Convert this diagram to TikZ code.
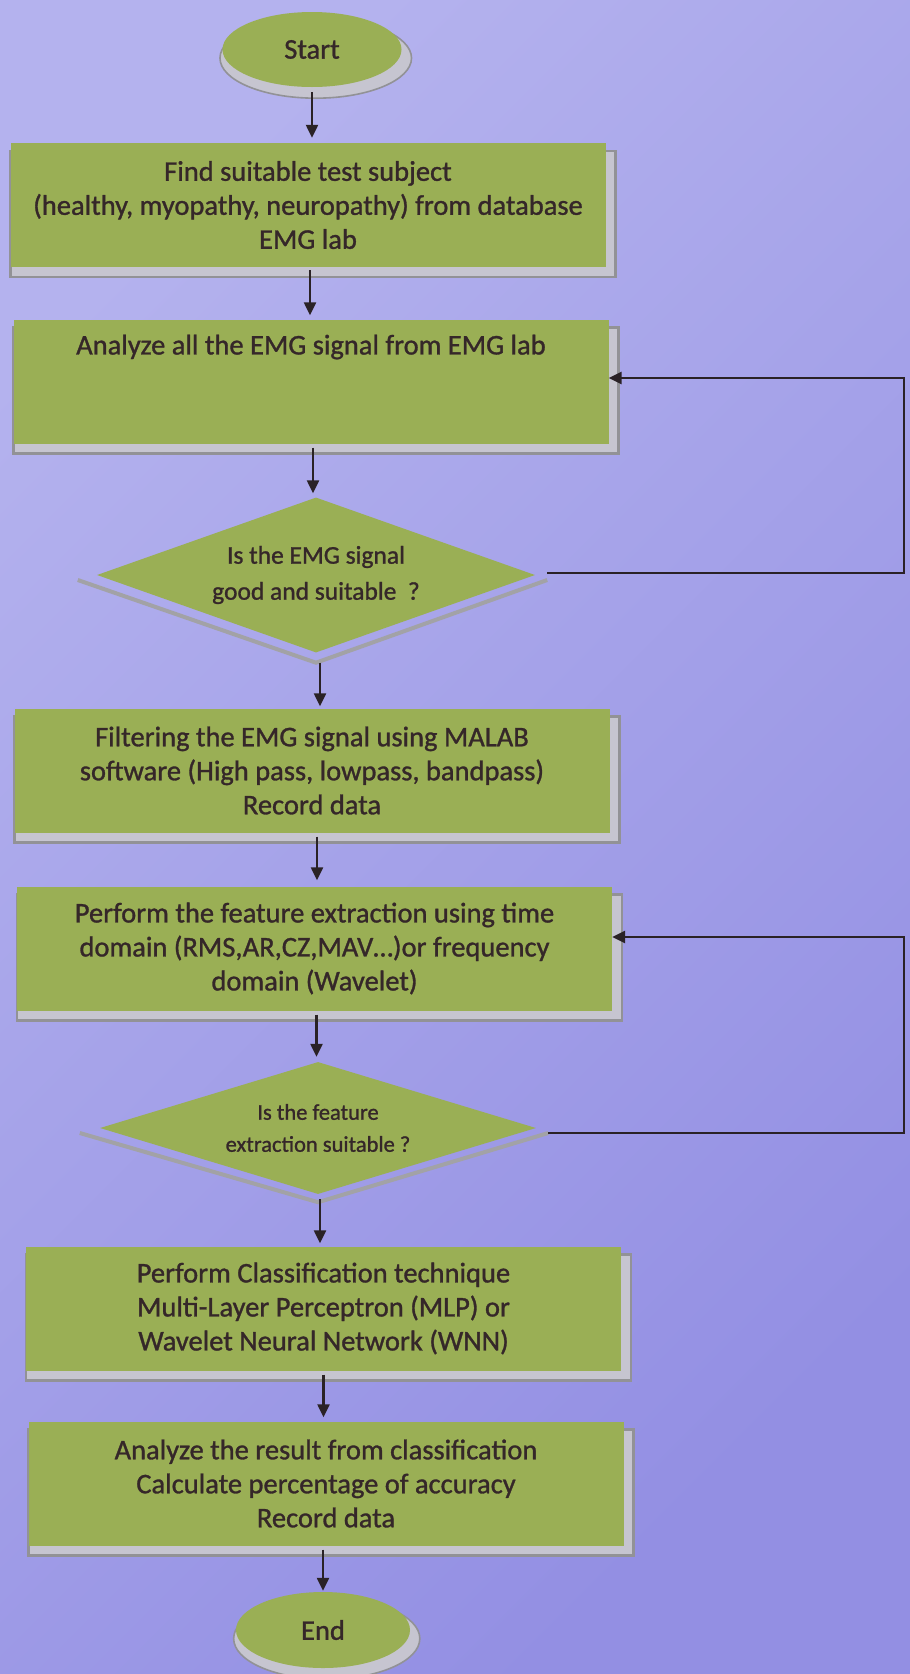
\documentclass[tikz,border=0pt]{standalone}
\usepackage{fontspec}
\setmainfont{Carlito}[FakeBold=1.1]
\usetikzlibrary{shapes.geometric,arrows.meta,shadows}
\definecolor{bgA}{HTML}{B4B2EE}
\definecolor{bgB}{HTML}{938FE3}
\definecolor{boxgreen}{HTML}{9AAF55}
\definecolor{ink}{HTML}{352729}
\definecolor{lineink}{HTML}{2A2226}
\definecolor{shfill}{HTML}{C6C5D0}
\definecolor{shedge}{HTML}{929296}
\begin{document}
\begin{tikzpicture}[x=1pt,y=-1pt,
  boxfont/.style={font=\fontsize{28.5}{34}\selectfont},
  procbox/.style={rectangle, fill=boxgreen, inner sep=0pt, minimum width=595pt,
    minimum height=124pt, align=center, text=ink, boxfont,
    drop shadow={shadow xshift=5pt, shadow yshift=-9pt, shadow scale=1.017,
      fill=shfill, draw=shedge, line width=2.5pt, opacity=1}},
  plaintext/.style={align=center, text=ink, boxfont, inner sep=0pt},
  termnode/.style={ellipse, fill=boxgreen, inner sep=0pt, text=ink, boxfont,
    drop shadow={shadow xshift=3.5pt, shadow yshift=-8pt, shadow scale=1.07,
      fill=shfill, draw=shedge, line width=1.5pt, opacity=1}},
  decision/.style={diamond, fill=boxgreen, inner sep=0pt, shape aspect=2.8,
    align=center, text=ink},
  dshadow/.style={draw=shedge!85, line width=4pt},
  arr/.style={draw=lineink, line width=2.3pt, -{Triangle[length=13pt,width=12pt]}},
  fb/.style={draw=lineink, line width=2.6pt, -{Triangle[length=13pt,width=12pt]}}
]
\shade[top color=bgA, bottom color=bgB, shading angle=45] (0,0) rectangle (910,1674);
\useasboundingbox (0,0) rectangle (910,1674);

% nodes
\node[termnode, minimum width=179pt, minimum height=75pt] (start) at (312,49.5) {Start};
\node[procbox] (b1) at (308,205) {Find suitable test subject\\(healthy, myopathy, neuropathy) from database\\EMG lab};
\node[procbox] (b2) at (311,381.5) {};
\node[plaintext] (b2t) at (311,347) {Analyze all the EMG signal from EMG lab};
\node[decision, minimum width=438pt, minimum height=155pt,
  font=\fontsize{25.5}{36}\selectfont] (d1) at (316,575) {Is the EMG signal\\good and suitable~ ?};
\node[procbox] (b3) at (312,770.5) {Filtering the EMG signal using MALAB\\software (High pass, lowpass, bandpass)\\Record data};
\node[procbox] (b4) at (314.5,948.5) {Perform the feature extraction using time\\domain (RMS,AR,CZ,MAV…)or frequency\\domain (Wavelet)};
\node[decision, minimum width=436pt, minimum height=132pt,
  font=\fontsize{22.5}{32}\selectfont] (d2) at (318,1128) {Is the feature\\extraction suitable ?};
\node[procbox] (b5) at (323.5,1308.5) {Perform Classification technique\\Multi-Layer Perceptron (MLP) or\\Wavelet Neural Network (WNN)};
\node[procbox] (b6) at (326,1483.5) {Analyze the result from classification\\Calculate percentage of accuracy\\Record data};
\node[termnode, minimum width=174pt, minimum height=76pt] (end) at (323,1630) {End};

\coordinate (rx) at (904,0);

% diamond shadow bands
\draw[dshadow] ([xshift=-19pt,yshift=-5pt]d1.west) -- ([yshift=-10pt]d1.south) -- ([xshift=12pt,yshift=-5pt]d1.east);
\draw[dshadow] ([xshift=-20pt,yshift=-5pt]d2.west) -- ([yshift=-8pt]d2.south) -- ([xshift=12pt,yshift=-5pt]d2.east);

% main flow
\draw[arr, shorten <=5pt, shorten >=5pt] (start.south) -- (start.south |- b1.north);
\draw[arr, shorten <=3pt, shorten >=4pt] ([xshift=2pt]b1.south) -- ([xshift=2pt]b1.south |- b2.north);
\draw[arr, shorten <=4pt, shorten >=4pt] ([xshift=2pt]b2.south) -- ([xshift=2pt]b2.south |- d1.north);
\draw[arr, shorten <=10pt, shorten >=2pt] ([xshift=4pt]d1.south) -- ([xshift=4pt]d1.south |- b3.north);
\draw[arr, shorten <=4pt, shorten >=6pt] ([xshift=5pt]b3.south) -- ([xshift=5pt]b3.south |- b4.north);
\draw[arr, shorten <=4pt, shorten >=5pt] ([xshift=2pt]b4.south) -- ([xshift=2pt]b4.south |- d2.north);
\draw[arr, shorten <=5pt, shorten >=3pt] ([xshift=2pt]d2.south) -- ([xshift=2pt]d2.south |- b5.north);
\draw[arr, shorten <=4pt, shorten >=4pt] (b5.south) -- (b5.south |- b6.north);
\draw[arr, shorten <=4pt, shorten >=1pt] ([xshift=-3pt]b6.south) -- ([xshift=-3pt]b6.south |- end.north);

% feedback loops
\draw[fb] ([xshift=12pt,yshift=2pt]d1.east) -- ([yshift=2pt]d1.east -| rx) |- ([yshift=3.5pt]b2.east);
\draw[fb] ([xshift=12pt,yshift=-5pt]d2.east) -- ([yshift=-5pt]d2.east -| rx) |- ([yshift=11.5pt]b4.east);
\end{tikzpicture}
\end{document}
